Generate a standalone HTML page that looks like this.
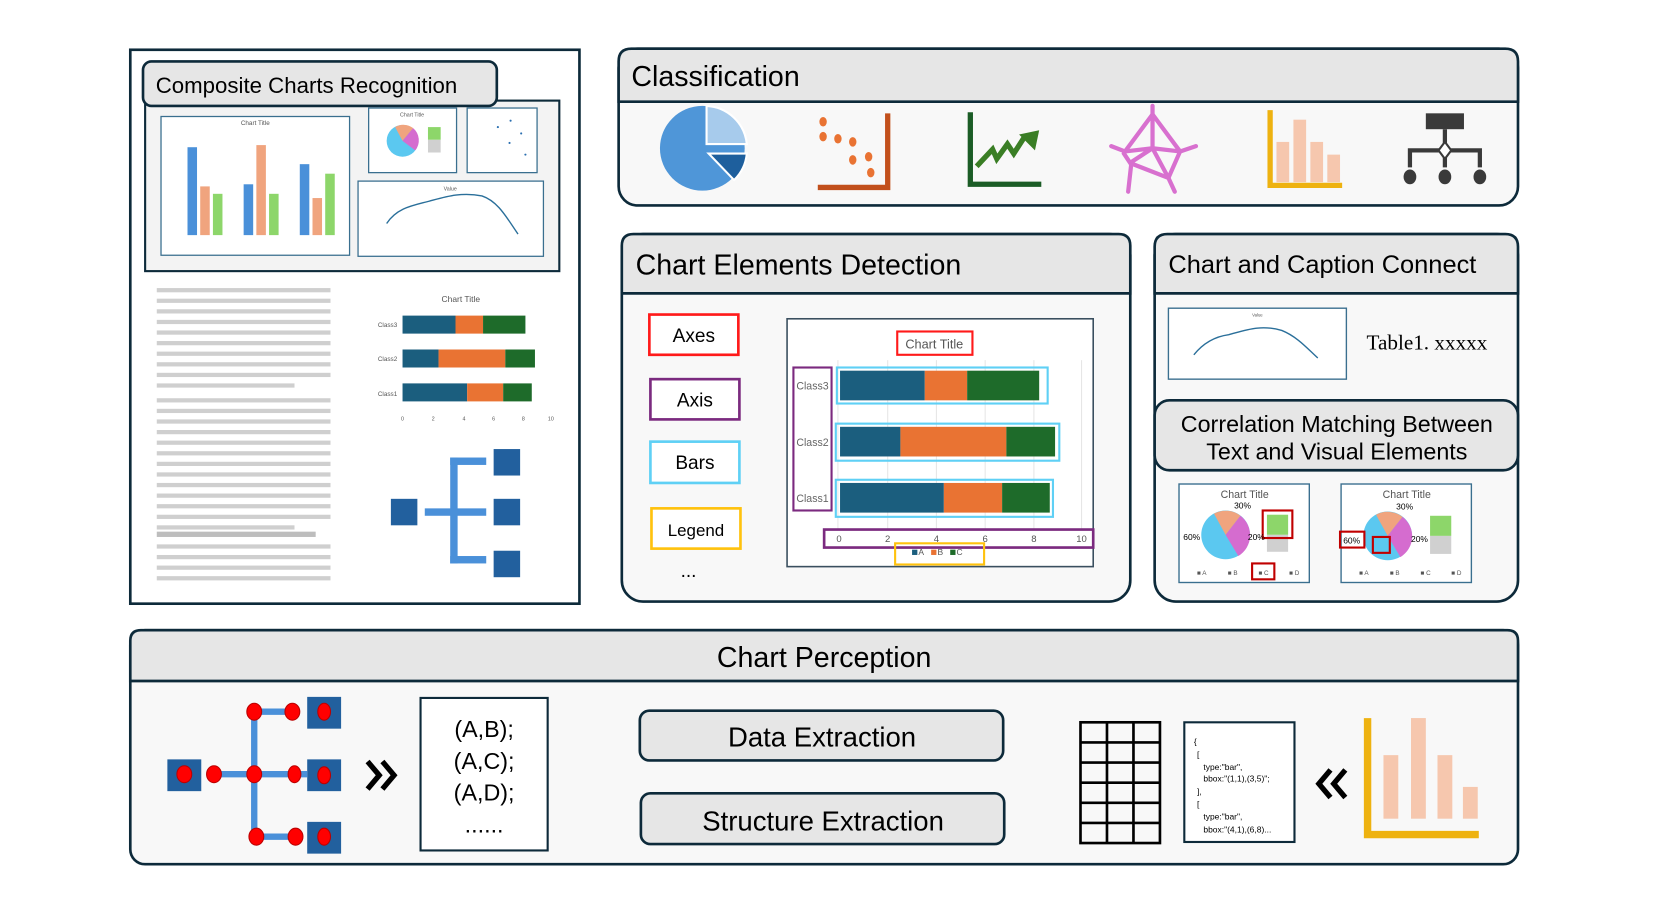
<!DOCTYPE html>
<html><head><meta charset="utf-8"><style>
html,body{margin:0;padding:0;background:#fff;}
svg{display:block;}
text{font-family:"Liberation Sans",sans-serif;}
</style></head><body>
<svg width="1661" height="914" viewBox="0 0 1568 863" preserveAspectRatio="none" xmlns="http://www.w3.org/2000/svg">
<rect width="1568" height="863" fill="#fff"/>

<!-- LEFT: Composite -->
<rect x="123" y="47" width="424" height="523" fill="#fff" stroke="#0d2a3a" stroke-width="2.5"/>
<rect x="137" y="95" width="391" height="161" fill="#f3f3f3" stroke="#0d2a3a" stroke-width="2"/>
<rect x="135" y="58" width="334" height="42" rx="8" fill="#e6e6e6" stroke="#0d2a3a" stroke-width="2.5"/>
<text x="147" y="88" font-size="21">Composite Charts Recognition</text>
<rect x="152" y="110" width="178" height="131" fill="#fff" stroke="#3a6f8f" stroke-width="1.2"/>
<text x="241" y="118" font-size="6" text-anchor="middle" fill="#555">Chart Title</text>
<g fill="#4a90d9"><rect x="177" y="139" width="9" height="83"/><rect x="230" y="174" width="9" height="48"/><rect x="283" y="155" width="9" height="67"/></g>
<g fill="#f0a47e"><rect x="189" y="176" width="9" height="46"/><rect x="242" y="137" width="9" height="85"/><rect x="295" y="187" width="9" height="35"/></g>
<g fill="#8dd66a"><rect x="201" y="183" width="9" height="39"/><rect x="254" y="183" width="9" height="39"/><rect x="307" y="164" width="9" height="58"/></g>
<rect x="348" y="102" width="83" height="61" fill="#fff" stroke="#3a6f8f" stroke-width="1.2"/>
<text x="389" y="110" font-size="5" text-anchor="middle" fill="#555">Chart Title</text>
<circle cx="380" cy="133" r="15" fill="#5bc8f0"/>
<path d="M380 133 L373 120 A15 15 0 0 1 390 121 Z" fill="#f0a47e"/>
<path d="M380 133 L390 121 A15 15 0 0 1 392 142 Z" fill="#d56ccf"/>
<rect x="404" y="120" width="12" height="12" fill="#8dd66a"/><rect x="404" y="132" width="12" height="12" fill="#d0d0d0"/>
<rect x="441" y="102" width="66" height="61" fill="#fff" stroke="#3a6f8f" stroke-width="1.2"/>
<g fill="#2a6fb0"><circle cx="482" cy="114" r="1"/><circle cx="470" cy="120" r="1"/><circle cx="492" cy="126" r="1"/><circle cx="481" cy="135" r="1"/><circle cx="496" cy="146" r="1"/></g>
<rect x="338" y="171" width="175" height="71" fill="#fff" stroke="#3a6f8f" stroke-width="1.2"/>
<text x="425" y="180" font-size="5" text-anchor="middle" fill="#555">Value</text>
<path d="M365 211 C375 196 390 194 405 190 C420 186 435 181 455 185 C470 190 478 205 489 221" fill="none" stroke="#2a6f9a" stroke-width="1.3"/>
<g fill="#cfcfcf">
<rect x="148" y="272" width="164" height="4"/><rect x="148" y="282" width="164" height="4"/><rect x="148" y="292" width="164" height="4"/><rect x="148" y="302" width="164" height="4"/><rect x="148" y="312" width="164" height="4"/><rect x="148" y="322" width="164" height="4"/><rect x="148" y="332" width="164" height="4"/><rect x="148" y="342" width="164" height="4"/><rect x="148" y="352" width="164" height="4"/><rect x="148" y="362" width="130" height="4"/>
<rect x="148" y="376" width="164" height="4"/><rect x="148" y="386" width="164" height="4"/><rect x="148" y="396" width="164" height="4"/><rect x="148" y="406" width="164" height="4"/><rect x="148" y="416" width="164" height="4"/><rect x="148" y="426" width="164" height="4"/><rect x="148" y="436" width="164" height="4"/><rect x="148" y="446" width="164" height="4"/><rect x="148" y="456" width="164" height="4"/><rect x="148" y="466" width="164" height="4"/><rect x="148" y="476" width="164" height="4"/><rect x="148" y="486" width="164" height="4"/><rect x="148" y="496" width="130" height="4"/>
<rect x="148" y="502" width="150" height="5" fill="#bdbdbd"/>
<rect x="148" y="514" width="164" height="4"/><rect x="148" y="524" width="164" height="4"/><rect x="148" y="534" width="164" height="4"/><rect x="148" y="544" width="164" height="4"/>
</g>
<text x="435" y="285" font-size="8" text-anchor="middle" fill="#555">Chart Title</text>
<g font-size="6" fill="#555" text-anchor="end"><text x="375" y="309">Class3</text><text x="375" y="341">Class2</text><text x="375" y="374">Class1</text></g>
<rect x="380" y="298" width="50" height="17" fill="#1b5e7e"/><rect x="430" y="298" width="26" height="17" fill="#e97333"/><rect x="456" y="298" width="40" height="17" fill="#1e6b2a"/>
<rect x="380" y="330" width="34" height="17" fill="#1b5e7e"/><rect x="414" y="330" width="63" height="17" fill="#e97333"/><rect x="477" y="330" width="28" height="17" fill="#1e6b2a"/>
<rect x="380" y="362" width="61" height="17" fill="#1b5e7e"/><rect x="441" y="362" width="34" height="17" fill="#e97333"/><rect x="475" y="362" width="27" height="17" fill="#1e6b2a"/>
<g font-size="5" fill="#555" text-anchor="middle"><text x="380" y="397">0</text><text x="409" y="397">2</text><text x="438" y="397">4</text><text x="466" y="397">6</text><text x="494" y="397">8</text><text x="520" y="397">10</text></g>
<g fill="#22609e"><rect x="369" y="471" width="25" height="25"/><rect x="466" y="424" width="25" height="25"/><rect x="466" y="471" width="25" height="25"/><rect x="466" y="520" width="25" height="25"/></g>
<g fill="#4a90d9"><rect x="425" y="432" width="7" height="100"/><rect x="425" y="432" width="34" height="7"/><rect x="425" y="525" width="34" height="7"/><rect x="401" y="480" width="58" height="7"/></g>

<!-- CLASSIFICATION -->
<rect x="584" y="46" width="849" height="148" rx="18" fill="#f8f8f8" stroke="#0d2a3a" stroke-width="2.5"/>
<path d="M584 96 L584 58 Q584 46 596 46 L1421 46 Q1433 46 1433 58 L1433 96 Z" fill="#e6e6e6" stroke="#0d2a3a" stroke-width="2.5"/>
<text x="596" y="81" font-size="27">Classification</text>
<circle cx="663" cy="140" r="40" fill="#4f96d8"/>
<path d="M667 100 A40 40 0 0 1 705 136 L667 136 Z" fill="#a7cbec" stroke="#fff" stroke-width="2"/>
<path d="M669 145 L705 145 A40 40 0 0 1 693 170 Z" fill="#1e5f9d" stroke="#fff" stroke-width="2"/>
<path d="M838 107 V177 H772" fill="none" stroke="#c2501c" stroke-width="5"/>
<g fill="#e97333"><ellipse cx="777" cy="115" rx="3.5" ry="4.5"/><ellipse cx="777" cy="129" rx="3.5" ry="4.5"/><ellipse cx="791" cy="131" rx="3.5" ry="4.5"/><ellipse cx="805" cy="134" rx="3.5" ry="4.5"/><ellipse cx="805" cy="151" rx="3.5" ry="4.5"/><ellipse cx="820" cy="148" rx="3.5" ry="4.5"/><ellipse cx="822" cy="163" rx="3.5" ry="4.5"/></g>
<path d="M916 106 V174 H983" fill="none" stroke="#1b5c26" stroke-width="5"/>
<path d="M922 157 L937 141 L941 150 L951 136 L957 145 L968 128" fill="none" stroke="#3a7e25" stroke-width="5"/>
<path d="M962 127 L981 123 L977 142 Z" fill="#3a7e25"/>
<g stroke="#d870cf" stroke-width="4" fill="none" stroke-linecap="round">
<path d="M1088 108 L1114 143 L1103 168 L1067 154 L1061 145 L1062 143 Z"/>
<path d="M1088 108 L1088 140 L1103 168 M1088 140 L1068 153 M1088 140 L1114 143 M1088 140 L1062 143"/>
<path d="M1088 100 L1088 108 M1114 143 L1129 138 M1103 168 L1109 181 M1068 154 L1065 181 M1062 143 L1049 138"/>
</g>
<path d="M1199 104 V175 H1267" fill="none" stroke="#eeb210" stroke-width="5"/>
<g fill="#f6c7ae"><rect x="1205" y="134" width="12" height="38"/><rect x="1221" y="113" width="12" height="59"/><rect x="1237" y="134" width="12" height="38"/><rect x="1253" y="146" width="12" height="26"/></g>
<rect x="1346" y="107" width="36" height="15" fill="#3a3a3a"/>
<g stroke="#3a3a3a" stroke-width="4" fill="none"><path d="M1364 122 V158 M1331 158 V142 H1397 V158"/></g>
<path d="M1364 134 L1370 142 L1364 150 L1358 142 Z" fill="#fff" stroke="#3a3a3a" stroke-width="2"/>
<g fill="#3a3a3a"><ellipse cx="1331" cy="167" rx="6" ry="7"/><ellipse cx="1364" cy="167" rx="6" ry="7"/><ellipse cx="1397" cy="167" rx="6" ry="7"/></g>

<!-- CHART ELEMENTS DETECTION -->
<rect x="587" y="221" width="480" height="347" rx="20" fill="#f8f8f8" stroke="#0d2a3a" stroke-width="2.5"/>
<path d="M587 277 L587 232 Q587 221 598 221 L1056 221 Q1067 221 1067 232 L1067 277 Z" fill="#e6e6e6" stroke="#0d2a3a" stroke-width="2.5"/>
<text x="600" y="259" font-size="27">Chart Elements Detection</text>
<rect x="613" y="297" width="84" height="38" fill="#fff" stroke="#ff1a1a" stroke-width="2.5"/><text x="655" y="323" font-size="18" text-anchor="middle">Axes</text>
<rect x="614" y="358" width="84" height="38" fill="#fff" stroke="#7b2a7f" stroke-width="2.5"/><text x="656" y="384" font-size="18" text-anchor="middle">Axis</text>
<rect x="614" y="417" width="84" height="39" fill="#fff" stroke="#5fd0f5" stroke-width="2.5"/><text x="656" y="443" font-size="18" text-anchor="middle">Bars</text>
<rect x="615" y="480" width="84" height="38" fill="#fff" stroke="#ffc20e" stroke-width="2.5"/><text x="657" y="506" font-size="16" text-anchor="middle">Legend</text>
<text x="650" y="545" font-size="18" text-anchor="middle">...</text>
<rect x="743" y="301" width="289" height="234" fill="#fff" stroke="#3a4f5f" stroke-width="1.5"/>
<g stroke="#e6e6e6" stroke-width="1"><line x1="791" y1="340" x2="791" y2="500"/><line x1="838" y1="340" x2="838" y2="500"/><line x1="884" y1="340" x2="884" y2="500"/><line x1="930" y1="340" x2="930" y2="500"/><line x1="976" y1="340" x2="976" y2="500"/><line x1="1021" y1="340" x2="1021" y2="500"/></g>
<rect x="847" y="313" width="71" height="22" fill="#fff" stroke="#ff1a1a" stroke-width="2"/><text x="882" y="329" font-size="12" text-anchor="middle" fill="#555">Chart Title</text>
<rect x="793" y="350" width="80" height="28" fill="#1b5e7e"/><rect x="873" y="350" width="40" height="28" fill="#e97333"/><rect x="913" y="350" width="68" height="28" fill="#1e6b2a"/>
<rect x="793" y="403" width="57" height="28" fill="#1b5e7e"/><rect x="850" y="403" width="100" height="28" fill="#e97333"/><rect x="950" y="403" width="46" height="28" fill="#1e6b2a"/>
<rect x="793" y="456" width="98" height="28" fill="#1b5e7e"/><rect x="891" y="456" width="55" height="28" fill="#e97333"/><rect x="946" y="456" width="45" height="28" fill="#1e6b2a"/>
<g fill="none" stroke="#5fd0f5" stroke-width="2"><rect x="790" y="347" width="199" height="34"/><rect x="789" y="400" width="211" height="35"/><rect x="789" y="453" width="205" height="35"/></g>
<rect x="749" y="347" width="36" height="135" fill="none" stroke="#7b2a7f" stroke-width="2"/>
<g font-size="10" fill="#666" text-anchor="middle"><text x="767" y="368">Class3</text><text x="767" y="421">Class2</text><text x="767" y="474">Class1</text></g>
<rect x="778" y="500" width="254" height="17" fill="none" stroke="#7b2a7f" stroke-width="2.5"/>
<g font-size="9" fill="#555" text-anchor="middle"><text x="792" y="512">0</text><text x="838" y="512">2</text><text x="884" y="512">4</text><text x="930" y="512">6</text><text x="976" y="512">8</text><text x="1021" y="512">10</text></g>
<rect x="845" y="513" width="84" height="20" fill="none" stroke="#ffc20e" stroke-width="2"/>
<g font-size="8" fill="#555"><rect x="861" y="519" width="5" height="5" fill="#1b5e7e"/><text x="867" y="524">A</text><rect x="879" y="519" width="5" height="5" fill="#e97333"/><text x="885" y="524">B</text><rect x="897" y="519" width="5" height="5" fill="#1e6b2a"/><text x="903" y="524">C</text></g>

<!-- CHART AND CAPTION -->
<rect x="1090" y="221" width="343" height="347" rx="20" fill="#f8f8f8" stroke="#0d2a3a" stroke-width="2.5"/>
<path d="M1090 277 L1090 233 Q1090 221 1102 221 L1421 221 Q1433 221 1433 233 L1433 277 Z" fill="#e6e6e6" stroke="#0d2a3a" stroke-width="2.5"/>
<text x="1103" y="258" font-size="24">Chart and Caption Connect</text>
<rect x="1103" y="291" width="168" height="67" fill="#fff" stroke="#3a6f8f" stroke-width="1.3"/>
<text x="1187" y="299" font-size="4" text-anchor="middle" fill="#555">Value</text>
<path d="M1127 335 C1135 325 1145 318 1160 316 C1175 312 1190 306 1210 312 C1225 318 1235 330 1244 338" fill="none" stroke="#2a6f9a" stroke-width="1.3"/>
<text x="1290" y="330" font-size="20" style="font-family:'Liberation Serif',serif">Table1. xxxxx</text>
<rect x="1090" y="378" width="343" height="66" rx="14" fill="#e6e6e6" stroke="#0d2a3a" stroke-width="2.5"/>
<text x="1262" y="408" font-size="22" text-anchor="middle">Correlation Matching Between</text>
<text x="1262" y="434" font-size="22" text-anchor="middle">Text and Visual Elements</text>
<rect x="1113" y="457" width="123" height="93" fill="#fff" stroke="#3a6f8f" stroke-width="1.3"/>
<text x="1175" y="470" font-size="10" text-anchor="middle" fill="#555">Chart Title</text>
<circle cx="1157" cy="505" r="23" fill="#5bc8f0"/>
<path d="M1157 505 L1146 485 A23 23 0 0 1 1171 487 Z" fill="#f0a47e"/>
<path d="M1157 505 L1171 487 A23 23 0 0 1 1169 525 Z" fill="#d56ccf"/>
<rect x="1196" y="486" width="20" height="19" fill="#8dd66a"/><rect x="1196" y="505" width="20" height="16" fill="#d0d0d0"/>
<rect x="1192" y="482" width="28" height="26" fill="none" stroke="#c00000" stroke-width="2"/>
<g font-size="8" style="font-family:'Liberation Serif',serif"><text x="1117" y="510">60%</text><text x="1165" y="480">30%</text><text x="1178" y="510">20%</text></g>
<rect x="1182" y="532" width="21" height="15" fill="none" stroke="#c00000" stroke-width="2"/>
<g font-size="6" fill="#555"><text x="1130" y="543">■ A</text><text x="1159" y="543">■ B</text><text x="1188" y="543">■ C</text><text x="1217" y="543">■ D</text></g>
<rect x="1266" y="457" width="123" height="93" fill="#fff" stroke="#3a6f8f" stroke-width="1.3"/>
<text x="1328" y="470" font-size="10" text-anchor="middle" fill="#555">Chart Title</text>
<circle cx="1310" cy="506" r="23" fill="#5bc8f0"/>
<path d="M1310 506 L1299 486 A23 23 0 0 1 1324 488 Z" fill="#f0a47e"/>
<path d="M1310 506 L1324 488 A23 23 0 0 1 1322 526 Z" fill="#d56ccf"/>
<rect x="1350" y="487" width="20" height="19" fill="#8dd66a"/><rect x="1350" y="506" width="20" height="17" fill="#d0d0d0"/>
<rect x="1265" y="502" width="23" height="15" fill="none" stroke="#c00000" stroke-width="2"/>
<g font-size="8" style="font-family:'Liberation Serif',serif"><text x="1268" y="513">60%</text><text x="1318" y="481">30%</text><text x="1332" y="512">20%</text></g>
<rect x="1296" y="507" width="16" height="15" fill="none" stroke="#c00000" stroke-width="2"/>
<g font-size="6" fill="#555"><text x="1283" y="543">■ A</text><text x="1312" y="543">■ B</text><text x="1341" y="543">■ C</text><text x="1370" y="543">■ D</text></g>

<!-- CHART PERCEPTION -->
<rect x="123" y="595" width="1310" height="221" rx="14" fill="#f8f8f8" stroke="#0d2a3a" stroke-width="2.5"/>
<path d="M123 643 L123 605 Q123 595 133 595 L1423 595 Q1433 595 1433 605 L1433 643 Z" fill="#e6e6e6" stroke="#0d2a3a" stroke-width="2.5"/>
<text x="778" y="630" font-size="27" text-anchor="middle">Chart Perception</text>
<g fill="#22609e"><rect x="158" y="717" width="32" height="30"/><rect x="290" y="658" width="32" height="30"/><rect x="290" y="717" width="32" height="30"/><rect x="290" y="776" width="32" height="30"/></g>
<g stroke="#4a90d9" stroke-width="6" fill="none"><path d="M240 672 V790 M240 672 H276 M240 790 H279 M202 731 H290"/></g>
<g fill="#f00" stroke="#b00" stroke-width="1">
<ellipse cx="174" cy="731" rx="7" ry="8"/><ellipse cx="202" cy="731" rx="7" ry="8"/><ellipse cx="240" cy="731" rx="7" ry="8"/><ellipse cx="278" cy="731" rx="6" ry="8"/><ellipse cx="306" cy="732" rx="6" ry="8"/>
<ellipse cx="240" cy="672" rx="7" ry="8"/><ellipse cx="276" cy="672" rx="7" ry="8"/><ellipse cx="306" cy="672" rx="6" ry="8"/>
<ellipse cx="242" cy="790" rx="7" ry="8"/><ellipse cx="279" cy="790" rx="7" ry="8"/><ellipse cx="306" cy="790" rx="6" ry="8"/></g>
<path d="M347 719 L358 732 L347 745 M361 719 L372 732 L361 745" fill="none" stroke="#000" stroke-width="5"/>
<rect x="397" y="659" width="120" height="144" fill="#fff" stroke="#0d2a3a" stroke-width="2"/>
<g font-size="22" text-anchor="middle"><text x="457" y="696">(A,B);</text><text x="457" y="726">(A,C);</text><text x="457" y="756">(A,D);</text><text x="457" y="786">......</text></g>
<rect x="604" y="671" width="343" height="47" rx="9" fill="#e6e6e6" stroke="#0d2a3a" stroke-width="2.5"/>
<text x="776" y="705" font-size="26" text-anchor="middle">Data Extraction</text>
<rect x="605" y="749" width="343" height="48" rx="9" fill="#e6e6e6" stroke="#0d2a3a" stroke-width="2.5"/>
<text x="777" y="784" font-size="26" text-anchor="middle">Structure Extraction</text>
<g stroke="#000" stroke-width="2.5" fill="none"><rect x="1020" y="682" width="75" height="114"/>
<path d="M1045 682 V796 M1070 682 V796 M1020 701 H1095 M1020 720 H1095 M1020 739 H1095 M1020 758 H1095 M1020 777 H1095"/></g>
<rect x="1118" y="682" width="104" height="113" fill="#fff" stroke="#0d2a3a" stroke-width="2"/>
<g font-size="8" style="font-family:'Liberation Serif',serif"><text x="1127" y="703">{</text><text x="1130" y="715">[</text><text x="1136" y="727">type:"bar",</text><text x="1136" y="738">bbox:"(1,1),(3,5)";</text><text x="1130" y="750">],</text><text x="1130" y="762">[</text><text x="1136" y="774">type:"bar",</text><text x="1136" y="786">bbox:"(4,1),(6,8)...</text></g>
<path d="M1256 727 L1245 740 L1256 753 M1270 727 L1259 740 L1270 753" fill="none" stroke="#000" stroke-width="5"/>
<path d="M1291 678 V788 H1396" fill="none" stroke="#eeb210" stroke-width="7"/>
<g fill="#f6c7ae"><rect x="1306" y="713" width="14" height="60"/><rect x="1332" y="678" width="14" height="95"/><rect x="1357" y="713" width="14" height="60"/><rect x="1381" y="743" width="14" height="30"/></g>
</svg>
</body></html>
